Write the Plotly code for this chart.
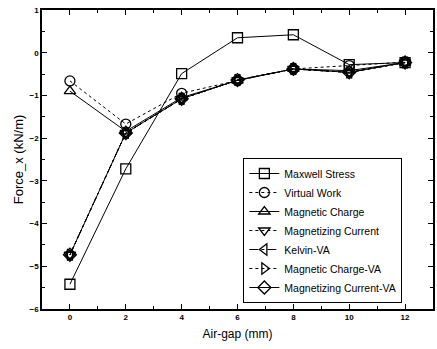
import plotly.graph_objects as go

x = [0, 2, 4, 6, 8, 10, 12]
maxwell = [-5.42, -2.72, -0.49, 0.35, 0.42, -0.28, -0.23]
virtual_work = [-0.66, -1.67, -0.95, -0.65, -0.38, -0.30, -0.22]
magnetic_charge = [-0.90, -1.84, -1.05, -0.65, -0.38, -0.42, -0.23]
magnetizing_current = [-4.73, -1.88, -1.08, -0.64, -0.38, -0.46, -0.23]
kelvin_va = [-4.73, -1.88, -1.08, -0.64, -0.38, -0.46, -0.23]
magnetic_charge_va = [-4.73, -1.88, -1.08, -0.64, -0.38, -0.46, -0.23]
magnetizing_current_va = [-4.73, -1.88, -1.08, -0.64, -0.38, -0.46, -0.23]

series = [
    ("Maxwell Stress", maxwell, "square-open", "solid"),
    ("Virtual Work", virtual_work, "circle-open", "dot"),
    ("Magnetic Charge", magnetic_charge, "triangle-up-open", "solid"),
    ("Magnetizing Current", magnetizing_current, "triangle-down-open", "dot"),
    ("Kelvin-VA", kelvin_va, "triangle-left-open", "dashdot"),
    ("Magnetic Charge-VA", magnetic_charge_va, "triangle-right-open", "dot"),
    ("Magnetizing Current-VA", magnetizing_current_va, "diamond-open", "solid"),
]

fig = go.Figure()
for name, ys, sym, dash in series:
    fig.add_trace(go.Scatter(
        x=x, y=ys, name=name, mode="lines+markers",
        line=dict(color="black", width=1, dash=dash),
        marker=dict(symbol=sym, size=10, color="black", line=dict(width=1.3, color="black")),
    ))

axis_common = dict(
    showline=True, linecolor="black", linewidth=1.5, mirror="ticks",
    ticks="inside", ticklen=5, tickcolor="black", showgrid=False, zeroline=False,
    automargin=False,
    tickfont=dict(family="Arial", size=8, color="black", weight="bold"),
)

fig.update_xaxes(
    range=[-1, 13], tickvals=[0, 2, 4, 6, 8, 10, 12],
    minor=dict(ticks="inside", ticklen=3, dtick=1, tick0=0, tickcolor="black"),
    title=dict(text="Air-gap (mm)", font=dict(family="Arial", size=12, color="black"), standoff=8),
    **axis_common,
)
fig.update_yaxes(
    range=[-6, 1], tickvals=[-6, -5, -4, -3, -2, -1, 0, 1],
    minor=dict(ticks="inside", ticklen=3, dtick=0.5, tick0=0, tickcolor="black"),
    title=dict(text="Force_x (kN/m)", font=dict(family="Arial", size=13, color="black"), standoff=3),
    **axis_common,
)

fig.update_layout(
    width=437, height=349,
    margin=dict(l=42, r=4, t=10, b=40),
    plot_bgcolor="white", paper_bgcolor="white",
    legend=dict(
        x=0.515, y=0.505, xanchor="left", yanchor="top",
        bgcolor="white", bordercolor="black", borderwidth=1,
        font=dict(family="Arial", size=10.5, color="black"),
        tracegroupgap=0, itemwidth=30,
    ),
)

fig.write_html("out.html", config={"displayModeBar": False},
               post_script="document.body.style.margin='0';")
